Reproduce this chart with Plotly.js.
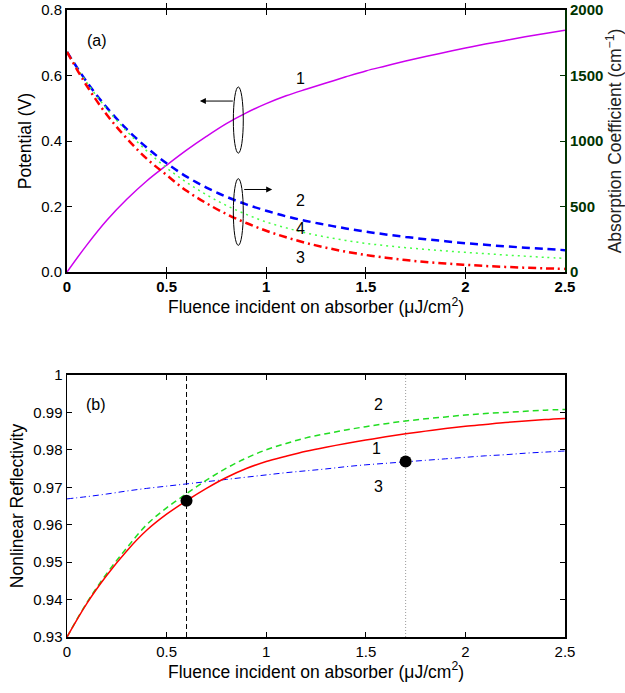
<!DOCTYPE html>
<html>
<head>
<meta charset="utf-8">
<script src="https://cdn.plot.ly/plotly-3.0.1.min.js"></script>
<style>html,body{margin:0;padding:0;background:#fff;}#chart{width:625px;height:693px;}</style>
</head>
<body>
<div id="chart"></div>
<script>
// ---- Panel (a) data ----
const fluenceA = [0,0.1,0.2,0.3,0.4,0.5,0.6,0.7,0.8,0.9,1.0,1.1,1.2,1.3,1.4,1.5,1.6,1.7,1.8,1.9,2.0,2.1,2.2,2.3,2.4,2.5];
const potential1 = [0,0.083,0.158,0.222,0.278,0.326,0.372,0.414,0.453,0.486,0.514,0.538,0.558,0.577,0.596,0.614,0.629,0.644,0.658,0.671,0.684,0.696,0.707,0.718,0.728,0.738];
const absorb2 = [1680,1450,1255,1090,950,830,728,645,575,516,468,425,390,360,333,308,287,268,250,235,220,208,196,186,176,167];
const absorb3 = [1680,1420,1200,1020,865,740,620,525,443,374,315,265,222,186,155,130,109,91,77,65,55,46,39,33,28,24];
const absorb4 = [1680,1445,1245,1075,925,795,685,590,508,440,382,337,298,267,241,219,201,186,173,161,150,140,130,121,112,104];
const ticksA = [0,0.5,1,1.5,2,2.5];
const tickTextA = ["0","0.5","1","1.5","2","2.5"];

// ---- Panel (b) data ----
const fluenceB = [0,0.1,0.2,0.3,0.4,0.5,0.6,0.7,0.8,0.9,1.0,1.1,1.2,1.3,1.4,1.5,1.6,1.7,1.8,1.9,2.0,2.1,2.2,2.3,2.4,2.5];
const refl1 = [0.9300,0.9390,0.9465,0.9530,0.9585,0.9628,0.9664,0.9697,0.9726,0.9750,0.9769,0.9783,0.9796,0.9807,0.9817,0.9826,0.9835,0.9843,0.9850,0.9857,0.9863,0.9868,0.9873,0.9877,0.9881,0.9884];
const refl2 = [0.9300,0.9392,0.9470,0.9538,0.9600,0.9645,0.9683,0.9719,0.9751,0.9778,0.9800,0.9817,0.9832,0.9843,0.9853,0.9862,0.9870,0.9877,0.9883,0.9888,0.9893,0.9897,0.9900,0.9903,0.9906,0.9908];
const refl3 = [0.9669,0.9675,0.9682,0.9690,0.9697,0.9703,0.9709,0.9715,0.9721,0.9727,0.9733,0.9739,0.9744,0.9749,0.9755,0.9760,0.9764,0.9768,0.9772,0.9776,0.9780,0.9784,0.9787,0.9791,0.9794,0.9797];
const markX = [0.6, 1.7];
const markY = [0.9664, 0.9769];
const ticksBy = [0.93,0.94,0.95,0.96,0.97,0.98,0.99,1.0];
const tickTextBy = ["0.93","0.94","0.95","0.96","0.97","0.98","0.99","1"];

const FONT = "Liberation Sans, Arial, Helvetica, sans-serif";
const SP = 'spline';

const traces = [
  {x: fluenceA, y: potential1, xaxis:'x', yaxis:'y', mode:'lines', line:{color:'#cc00ee', width:1.5, shape:SP}, hoverinfo:'skip'},
  {x: fluenceA, y: absorb2, xaxis:'x', yaxis:'y2', mode:'lines', line:{color:'#0000ff', width:2.5, dash:'8px,5px', shape:SP}, hoverinfo:'skip'},
  {x: fluenceA, y: absorb4, xaxis:'x', yaxis:'y2', mode:'lines', line:{color:'#44ff44', width:1.5, dash:'2px,4px', shape:SP}, hoverinfo:'skip'},
  {x: fluenceA, y: absorb3, xaxis:'x', yaxis:'y2', mode:'lines', line:{color:'#ff0000', width:2.5, dash:'8px,4px,2px,4px', shape:SP}, hoverinfo:'skip'},
  {x: [0.6,0.6], y: [0.93,1.0], xaxis:'x2', yaxis:'y3', mode:'lines', line:{color:'#000000', width:1, dash:'5px,3px'}, hoverinfo:'skip'},
  {x: [1.7,1.7], y: [0.93,1.0], xaxis:'x2', yaxis:'y3', mode:'lines', line:{color:'#999999', width:1, dash:'1px,2px'}, hoverinfo:'skip'},
  {x: fluenceB, y: refl3, xaxis:'x2', yaxis:'y3', mode:'lines', line:{color:'#0000ff', width:1, dash:'6px,3px,1px,3px', shape:SP}, hoverinfo:'skip'},
  {x: fluenceB, y: refl2, xaxis:'x2', yaxis:'y3', mode:'lines', line:{color:'#22dd22', width:1.5, dash:'6px,4px', shape:SP}, hoverinfo:'skip'},
  {x: fluenceB, y: refl1, xaxis:'x2', yaxis:'y3', mode:'lines', line:{color:'#ff0000', width:1.5, shape:SP}, hoverinfo:'skip'},
  {x: markX, y: markY, xaxis:'x2', yaxis:'y3', mode:'markers', marker:{color:'#000000', size:12}, hoverinfo:'skip'}
];

const axCommon = {ticks:'inside', ticklen:5, tickwidth:1, tickcolor:'#000', showgrid:false, zeroline:false, showline:true, linecolor:'#000'};
const TITLE_SIZE = 17.5;
const TICK_SIZE = 15;

const layout = {
  width:625, height:693,
  margin:{l:67, r:60, t:10, b:56},
  paper_bgcolor:'#fff', plot_bgcolor:'#fff',
  showlegend:false,
  font:{family:FONT, size:TICK_SIZE, color:'#000'},
  xaxis: Object.assign({}, axCommon, {domain:[0,1], anchor:'y', range:[0,2.5], tickvals:ticksA, ticktext:tickTextA, mirror:'allticks', linewidth:2,
    tickfont:{family:FONT, size:TICK_SIZE, weight:'bold'},
    title:{text:'Fluence incident on absorber (μJ/cm<sup>2</sup>)', font:{family:FONT, size:TITLE_SIZE}, standoff:2}}),
  yaxis: Object.assign({}, axCommon, {domain:[0.5821,1], anchor:'x', range:[0,0.8], tickvals:[0,0.2,0.4,0.6,0.8], ticktext:['0.0','0.2','0.4','0.6','0.8'], mirror:true, linewidth:2,
    tickfont:{family:FONT, size:TICK_SIZE},
    title:{text:'Potential (V)', font:{family:FONT, size:TITLE_SIZE}, standoff:5}}),
  yaxis2: Object.assign({}, axCommon, {overlaying:'y', side:'right', anchor:'x', range:[0,2000], tickvals:[0,500,1000,1500,2000], linecolor:'#003300', tickcolor:'#003300', linewidth:2,
    tickfont:{family:FONT, size:TICK_SIZE, color:'#003300', weight:'bold'},
    title:{text:'Absorption Coefficient (cm<sup>−1</sup>)', font:{family:FONT, size:TITLE_SIZE, color:'#222'}, standoff:2}}),
  xaxis2: Object.assign({}, axCommon, {domain:[0,1], anchor:'y3', range:[0,2.5], tickvals:ticksA, ticktext:tickTextA, mirror:'allticks', linewidth:1.5,
    tickfont:{family:FONT, size:TICK_SIZE},
    title:{text:'Fluence incident on absorber (μJ/cm<sup>2</sup>)', font:{family:FONT, size:TITLE_SIZE}, standoff:2}}),
  yaxis3: Object.assign({}, axCommon, {domain:[0,0.4179], anchor:'x2', range:[0.93,1.0], tickvals:ticksBy, ticktext:tickTextBy, mirror:'allticks', linewidth:1.5,
    tickfont:{family:FONT, size:TICK_SIZE},
    title:{text:'Nonlinear Reflectivity', font:{family:FONT, size:TITLE_SIZE}, standoff:5}}),
  shapes: [
    {type:'circle', xref:'x', yref:'y', x0:0.835, x1:0.885, y0:0.363, y1:0.565, line:{color:'#000', width:1}},
    {type:'circle', xref:'x', yref:'y', x0:0.835, x1:0.885, y0:0.0815, y1:0.285, line:{color:'#000', width:1}}
  ],
  annotations: [
    {x:0.667, y:0.522, ax:0.84, ay:0.522, xref:'x', yref:'y', axref:'x', ayref:'y', text:'', showarrow:true, arrowhead:2, arrowsize:1.2, arrowwidth:1, arrowcolor:'#000'},
    {x:1.03, y:0.252, ax:0.882, ay:0.252, xref:'x', yref:'y', axref:'x', ayref:'y', text:'', showarrow:true, arrowhead:2, arrowsize:1.2, arrowwidth:1, arrowcolor:'#000'},
    {x:0.15, y:0.707, xref:'x', yref:'y', text:'(a)', showarrow:false, font:{family:FONT, size:16}},
    {x:1.17, y:0.59, xref:'x', yref:'y', text:'1', showarrow:false, font:{family:FONT, size:16}},
    {x:1.17, y:0.219, xref:'x', yref:'y', text:'2', showarrow:false, font:{family:FONT, size:16}},
    {x:1.17, y:0.133, xref:'x', yref:'y', text:'4', showarrow:false, font:{family:FONT, size:16}},
    {x:1.17, y:0.045, xref:'x', yref:'y', text:'3', showarrow:false, font:{family:FONT, size:16}},
    {x:0.148, y:0.992, xref:'x2', yref:'y3', text:'(b)', showarrow:false, font:{family:FONT, size:16}},
    {x:1.565, y:0.992, xref:'x2', yref:'y3', text:'2', showarrow:false, font:{family:FONT, size:16}},
    {x:1.556, y:0.9804, xref:'x2', yref:'y3', text:'1', showarrow:false, font:{family:FONT, size:16}},
    {x:1.565, y:0.9702, xref:'x2', yref:'y3', text:'3', showarrow:false, font:{family:FONT, size:16}}
  ]
};

Plotly.newPlot('chart', traces, layout, {staticPlot:true, displayModeBar:false});
</script>
</body>
</html>
